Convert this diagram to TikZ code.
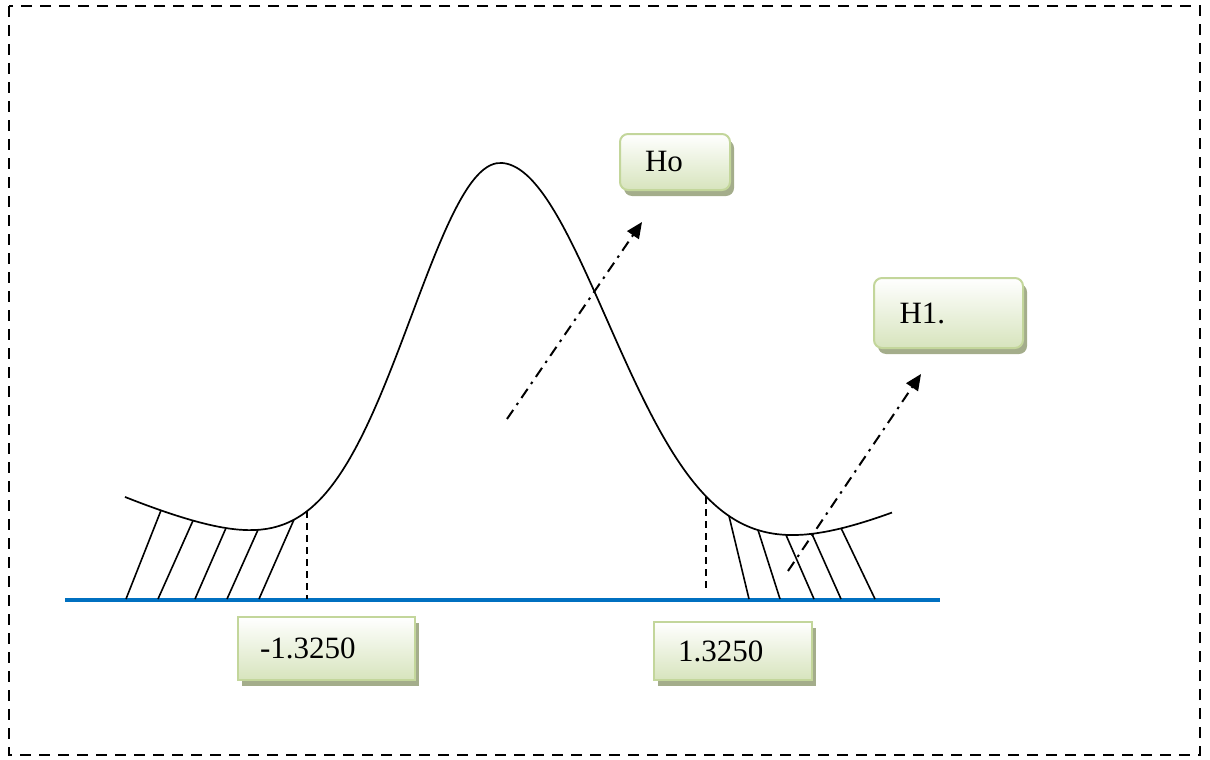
\documentclass[tikz,border=0pt]{standalone}
\usepackage{fontspec}
\setmainfont{Liberation Serif}
\usetikzlibrary{arrows.meta,shadows}
\definecolor{axisblue}{HTML}{0070C0}
\definecolor{boxedge}{HTML}{C3D69B}
\definecolor{boxbottom}{HTML}{D7E4BD}
\definecolor{boxshadow}{HTML}{A4AD8B}
\tikzset{
  lbl/.style={draw=boxedge, line width=2pt, top color=white, bottom color=boxbottom,
    drop shadow={shadow xshift=4pt, shadow yshift=-6pt, fill=boxshadow, opacity=1},
    font=\fontsize{31}{36}\selectfont, align=left, inner ysep=0pt, anchor=center},
  rlbl/.style={lbl, rounded corners=8pt},
  curve/.style={line width=1.7pt, line join=round},
  hatch/.style={line width=1.6pt},
  guide/.style={line width=1.6pt, dash pattern=on 7pt off 5pt},
  pointer/.style={line width=2pt, dash pattern=on 11pt off 6pt on 2.5pt off 6pt,
    -{Triangle[length=16pt,width=14pt]}},
}
\begin{document}
\begin{tikzpicture}[x=1pt,y=-1pt]
\useasboundingbox (0,0) rectangle (1210,760);
% outer dashed frame
\draw[line width=1.8pt, dash pattern=on 11pt off 8pt] (9,6) rectangle (1200,755);
% axis
\draw[axisblue, line width=3.2pt] (65,600) -- (940,600);
% normal curve (left and right halves)
\draw[curve] plot[domain=125:500, samples=120, smooth]
  (\x, {600 - (27.9 + 5.34*((\x-500)/100)^2 + 409*exp(-((\x-500)/100)^2/1.62))})
  -- plot[domain=500:892, samples=120, smooth]
  (\x, {600 - (11.2 + 4.92*((\x-500)/100)^2 + 425.8*exp(-((\x-500)/100)^2/2.38))});
% left hatching
\draw[hatch] (161,510.4) -- (126,599);
\draw[hatch] (193,520.6) -- (158,599);
\draw[hatch] (226,528) -- (195,599);
\draw[hatch] (258,529.8) -- (227,599);
\draw[hatch] (294,519.6) -- (259,599);
% right hatching
\draw[hatch] (729,516) -- (749,599);
\draw[hatch] (758,530) -- (780,599);
\draw[hatch] (786,535) -- (814,599);
\draw[hatch] (812,534) -- (841,599);
\draw[hatch] (841,528) -- (875,599);
% critical value guides
\draw[guide] (307,511) -- (307,599);
\draw[guide] (706,497) -- (706,591);
% labels
\node[rlbl, minimum width=110pt, minimum height=56pt, text width=60pt] (ho) at (675,162) {Ho};
\node[rlbl, minimum width=149pt, minimum height=70pt, text width=98pt] (h1) at (948.5,313) {H1.};
\node[lbl, minimum width=177pt, minimum height=63pt, text width=133pt] (lcv) at (326.5,648.5) {-1.3250};
\node[lbl, minimum width=158pt, minimum height=58pt, text width=110pt] (rcv) at (733,651) {1.3250};
% pointers
\coordinate (p0s) at (507,419);
\coordinate (p0e) at (642,222);
\coordinate (p1s) at (788,571);
\coordinate (p1e) at (921,374);
\draw[pointer] (p0s) -- (p0e);
\draw[pointer] (p1s) -- (p1e);
\end{tikzpicture}
\end{document}
